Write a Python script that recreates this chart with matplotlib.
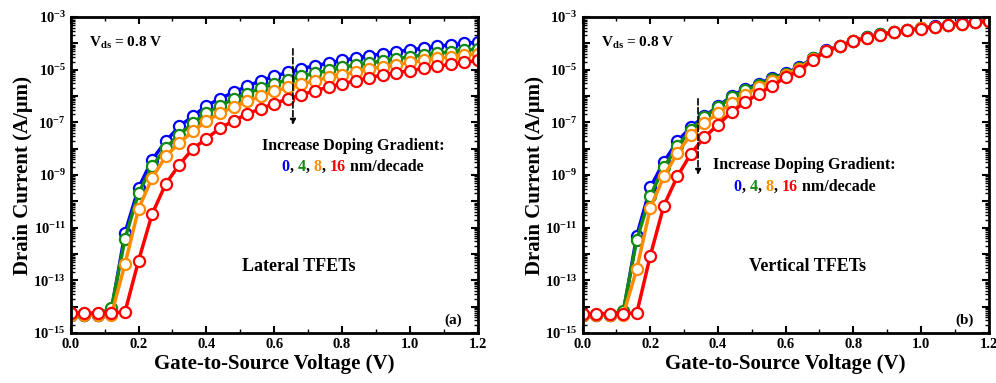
import matplotlib
matplotlib.use("Agg")
import matplotlib.pyplot as plt
import numpy as np
from matplotlib.offsetbox import TextArea, HPacker, AnnotationBbox
from matplotlib.ticker import MultipleLocator, LogLocator, NullFormatter

plt.rcParams["font.family"] = ["Liberation Serif", "DejaVu Serif"]
plt.rcParams["font.weight"] = "bold"
plt.rcParams["mathtext.fontset"] = "custom"
plt.rcParams["mathtext.rm"] = "Liberation Serif:bold"
plt.rcParams["mathtext.bf"] = "Liberation Serif:bold"
plt.rcParams["mathtext.it"] = "Liberation Serif:bold"

# gate voltage sweep (V)
vgs = np.round(np.arange(0, 31) * 0.04, 2)

# log10 of drain current (A/um), lateral TFETs
lat_0 = [-14.3, -14.3, -14.3, -14.15, -11.2, -9.49, -8.42, -7.72, -7.15, -6.77, -6.37,
         -6.10, -5.86, -5.63, -5.42, -5.25, -5.10, -4.96, -4.85, -4.75, -4.65, -4.56,
         -4.47, -4.39, -4.32, -4.24, -4.19, -4.11, -4.06, -4.00, -3.96]
lat_4 = [-14.3, -14.3, -14.3, -14.05, -11.42, -9.68, -8.67, -7.97, -7.47, -7.03, -6.65,
         -6.37, -6.11, -5.91, -5.70, -5.53, -5.38, -5.25, -5.13, -5.03, -4.91, -4.82,
         -4.75, -4.66, -4.58, -4.51, -4.44, -4.38, -4.32, -4.25, -4.22]
lat_8 = [-14.3, -14.3, -14.3, -14.3, -12.38, -10.28, -9.11, -8.29, -7.78, -7.34, -6.96,
         -6.65, -6.42, -6.20, -6.01, -5.82, -5.67, -5.54, -5.42, -5.29, -5.19, -5.08,
         -4.97, -4.89, -4.81, -4.72, -4.65, -4.57, -4.51, -4.44, -4.39]
lat_16 = [-14.24, -14.24, -14.24, -14.24, -14.2, -12.25, -10.48, -9.34, -8.61, -8.00, -7.62,
          -7.22, -6.94, -6.68, -6.48, -6.29, -6.11, -5.95, -5.80, -5.66, -5.54, -5.42,
          -5.30, -5.20, -5.11, -5.04, -4.95, -4.87, -4.80, -4.72, -4.65]

# log10 of drain current (A/um), vertical TFETs
ver_0 = [-14.3, -14.3, -14.3, -14.25, -11.3, -9.47, -8.50, -7.72, -7.18, -6.77, -6.39,
         -6.01, -5.73, -5.53, -5.32, -5.13, -4.91, -4.56, -4.27, -4.09, -3.90, -3.76,
         -3.65, -3.57, -3.48, -3.42, -3.35, -3.29, -3.24, -3.19, -3.14]
ver_4 = [-14.3, -14.3, -14.3, -14.15, -11.46, -9.78, -8.71, -7.91, -7.28, -6.80, -6.42,
         -6.05, -5.78, -5.58, -5.35, -5.15, -4.93, -4.57, -4.28, -4.10, -3.91, -3.77,
         -3.66, -3.57, -3.49, -3.43, -3.36, -3.30, -3.25, -3.20, -3.15]
ver_8 = [-14.3, -14.3, -14.3, -14.3, -12.57, -10.25, -9.05, -8.16, -7.47, -7.03, -6.65,
         -6.27, -5.95, -5.66, -5.42, -5.19, -4.96, -4.60, -4.29, -4.10, -3.91, -3.78,
         -3.67, -3.58, -3.50, -3.43, -3.36, -3.30, -3.25, -3.20, -3.15]
ver_16 = [-14.26, -14.26, -14.26, -14.26, -14.24, -12.06, -10.16, -9.05, -8.19, -7.56, -7.09,
          -6.61, -6.23, -5.92, -5.61, -5.29, -5.04, -4.62, -4.30, -4.11, -3.92, -3.80,
          -3.68, -3.58, -3.51, -3.44, -3.37, -3.30, -3.25, -3.20, -3.15]

gradients = ["0", "4", "8", "16"]
colors = ["#0000ff", "#138a13", "#ff8c00", "#ff0000"]

fig = plt.figure(figsize=(9.96, 3.83), dpi=100)
ax1 = fig.add_axes((0.071, 0.1305, 0.4087, 0.825))
ax2 = fig.add_axes((0.585, 0.1305, 0.4076, 0.825))


def draw_panel(ax, curves, arrow_x, arrow_top, arrow_bot, inc_xy, nums_xy, name, name_xy, tag):
    for logs, c in zip(curves, colors):
        ax.plot(vgs, 10.0 ** np.array(logs), "-o", color=c, lw=2.5, ms=8,
                mfc="white", mec=c, mew=1.6)
    ax.set_yscale("log")
    ax.set_xlim(0, 1.2)
    ax.set_ylim(1e-15, 1e-3)
    ax.xaxis.set_major_locator(MultipleLocator(0.2))
    ax.xaxis.set_minor_locator(MultipleLocator(0.1))
    ax.xaxis.set_major_formatter(lambda v, p: f"{v:.1f}")
    exps = list(range(-15, -2))
    ax.set_yticks([10.0 ** e for e in exps],
                  [r"$\mathbf{10^{%d}}$" % e if e % 2 else "" for e in exps])
    ax.yaxis.set_minor_locator(LogLocator(base=10, subs=np.arange(2, 10), numticks=30))
    ax.yaxis.set_minor_formatter(NullFormatter())
    ax.tick_params(which="both", direction="in", top=True, right=True, labelsize=10.5)
    ax.tick_params(which="major", length=5, width=1.5)
    ax.tick_params(which="minor", length=3, width=1)
    for s in ax.spines.values():
        s.set_linewidth(2)
    ax.set_xlabel("Gate-to-Source Voltage (V)", fontsize=15, fontweight="bold", labelpad=2)
    ax.set_ylabel("Drain Current (A/\u03bcm)", fontsize=15, fontweight="bold", labelpad=0)

    ax.text(0.045, 0.918, r"V$_{\mathbf{ds}}$ = 0.8 V", transform=ax.transAxes,
            fontsize=11, fontweight="bold", ha="left", va="center")
    ax.annotate("", xy=(arrow_x, arrow_bot), xytext=(arrow_x, arrow_top),
                arrowprops=dict(arrowstyle="-|>", linestyle="--", color="black",
                                lw=1.2, mutation_scale=8))
    ax.text(inc_xy[0], inc_xy[1], "Increase Doping Gradient:", transform=ax.transAxes,
            fontsize=11.5, fontweight="bold", ha="center", va="center")
    fs = 11.5
    parts = []
    for g, c in zip(gradients, colors):
        parts.append(TextArea(g, textprops=dict(color=c, fontsize=fs, fontweight="bold")))
        if g != gradients[-1]:
            parts.append(TextArea(", ", textprops=dict(color="black", fontsize=fs, fontweight="bold")))
    parts.append(TextArea(" nm/decade", textprops=dict(color="black", fontsize=fs, fontweight="bold")))
    box = HPacker(children=parts, align="baseline", pad=0, sep=0)
    ax.add_artist(AnnotationBbox(box, nums_xy, xycoords="axes fraction", frameon=False,
                                 box_alignment=(0.5, 0.5)))
    ax.text(name_xy[0], name_xy[1], name, transform=ax.transAxes,
            fontsize=13, fontweight="bold", ha="center", va="center")
    ax.text(0.94, 0.041, tag, transform=ax.transAxes,
            fontsize=11, fontweight="bold", ha="center", va="center")


draw_panel(ax1, [lat_0, lat_4, lat_8, lat_16], 0.655, 10 ** -4.1, 10 ** -7.2,
           (0.694, 0.592), (0.692, 0.525), "Lateral TFETs", (0.561, 0.209), "(a)")
draw_panel(ax2, [ver_0, ver_4, ver_8, ver_16], 0.341, 10 ** -6.0, 10 ** -9.1,
           (0.545, 0.532), (0.547, 0.462), "Vertical TFETs", (0.555, 0.209), "(b)")

fig.savefig("out.png", dpi=100)
